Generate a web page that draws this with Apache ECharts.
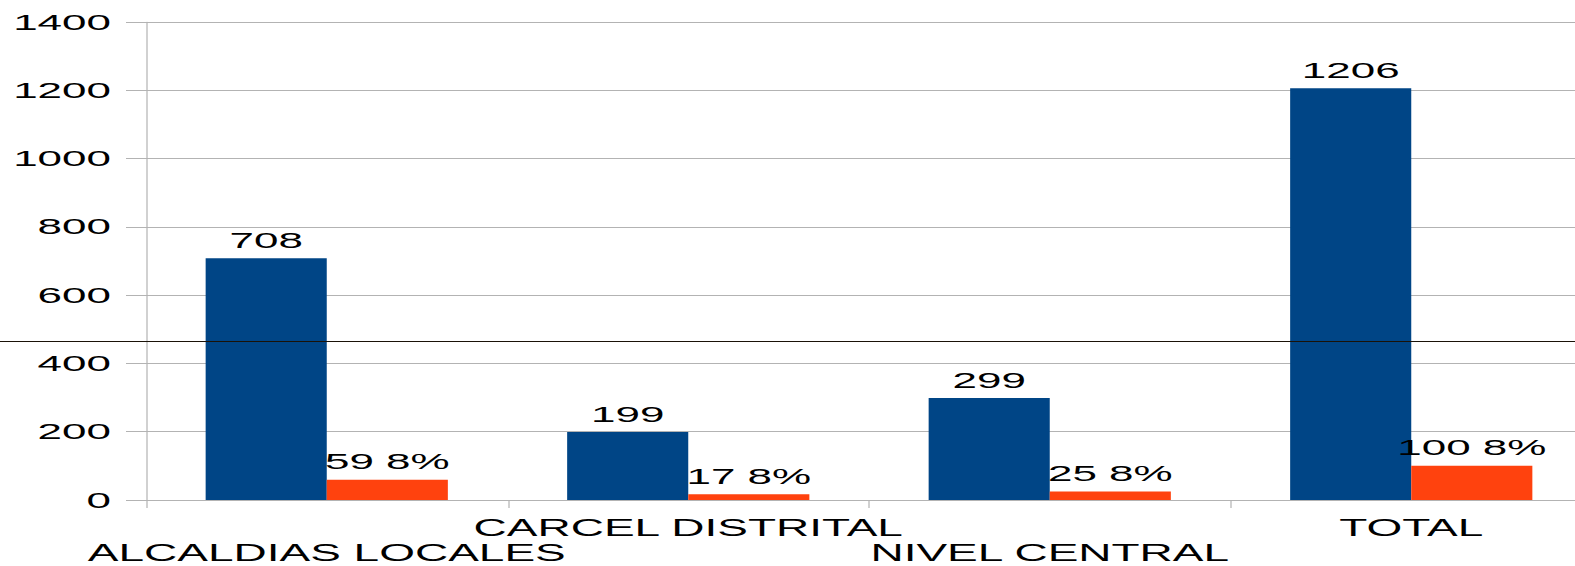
<!DOCTYPE html>
<html>
<head>
<meta charset="utf-8">
<script src="https://cdn.jsdelivr.net/npm/echarts@6/dist/echarts.min.js"></script>
<style>
  html, body { margin: 0; padding: 0; background: #fff; overflow: hidden; }
  #c { width: 788px; height: 566px; transform: scaleX(2); transform-origin: 0 0; }
</style>
</head>
<body>
<div id="c"></div>
<script>
const categories = ['ALCALDIAS LOCALES', 'CARCEL DISTRITAL', 'NIVEL CENTRAL', 'TOTAL'];
const countValues = [708, 199, 299, 1206];
const percentValues = [59, 17, 25, 100];
const percentLabels = ['59 8%', '17 8%', '25 8%', '100 8%'];
const yTicks = [0, 200, 400, 600, 800, 1000, 1200, 1400];

const font = '"Liberation Sans", Arial, sans-serif';
const chart = echarts.init(document.getElementById('c'), null, { renderer: 'svg' });
chart.setOption({
  animation: false,
  grid: { left: 73, top: 22, width: 723, bottom: 66, containLabel: false, outerBoundsMode: 'none' },
  xAxis: {
    type: 'category',
    data: categories,
    axisLine: { lineStyle: { color: '#b3b3b3', width: 1 } },
    axisTick: { show: true, length: 8, lineStyle: { color: '#b3b3b3', width: 0.6 } },
    axisLabel: {
      interval: 0, color: '#000', fontFamily: font, fontSize: 23, lineHeight: 25.5, margin: 15,
      formatter: (v, i) => (i % 2 === 0 ? '\n' + v : v)
    }
  },
  yAxis: {
    type: 'value', min: yTicks[0], max: yTicks[yTicks.length - 1], interval: 200,
    axisLine: { show: true, lineStyle: { color: '#b3b3b3', width: 0.6 } },
    axisTick: { show: true, length: 10, lineStyle: { color: '#b3b3b3', width: 1 } },
    splitLine: { lineStyle: { color: '#b3b3b3', width: 1 } },
    axisLabel: { color: '#000', fontFamily: font, fontSize: 22, margin: 17.5, formatter: v => String(v) }
  },
  series: [
    {
      type: 'bar', data: countValues, barGap: '0%', barCategoryGap: '33%',
      itemStyle: { color: '#004586' },
      label: { show: true, position: 'top', distance: 7, color: '#000', fontFamily: font, fontSize: 22 }
    },
    {
      type: 'bar', data: percentValues, barGap: '0%', barCategoryGap: '33%',
      itemStyle: { color: '#ff420e' },
      label: {
        show: true, position: 'top', distance: 7, color: '#000', fontFamily: font, fontSize: 22,
        formatter: p => percentLabels[p.dataIndex]
      }
    }
  ],
  graphic: [{
    type: 'line', z: 100,
    shape: { x1: 0, y1: 341.5, x2: 788, y2: 341.5 },
    style: { stroke: '#1a1208', lineWidth: 1 }
  }]
});
</script>
</body>
</html>
